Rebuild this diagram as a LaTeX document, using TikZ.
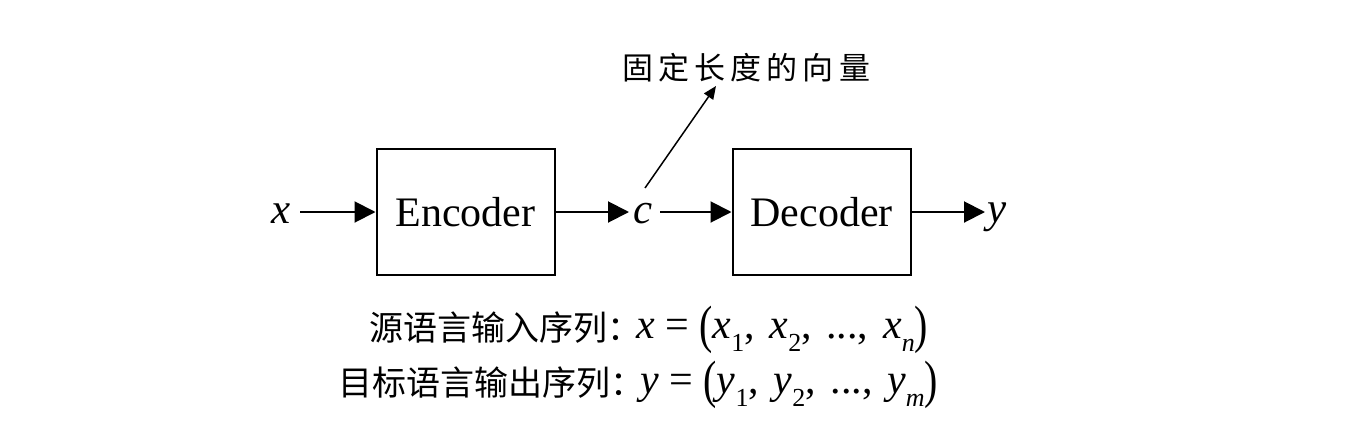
\documentclass[tikz,border=0pt]{standalone}
\usepackage{fontspec}
\usepackage{graphicx}
\setmainfont{Liberation Serif}
\newfontfamily\cjk{Noto Sans CJK SC}
\usetikzlibrary{arrows.meta}
\newcommand\mysub[1]{\raisebox{-0.3em}{\fontsize{26}{26}\selectfont #1}}
\newcommand\myit[1]{\textit{#1}}
\newcommand\tallp[1]{\raisebox{-0.1em}{\scalebox{0.95}[1.25]{#1}}}
\newcommand\myeq{\hspace{0.25em}=\hspace{0.25em}}
\newcommand\cm{,\hspace{0.35em}}
\begin{document}
\begin{tikzpicture}[x=1pt,y=-1pt,
  blk/.style={draw,line width=2pt,minimum width=178pt,minimum height=126pt,inner sep=0pt,font=\fontsize{42}{42}\selectfont},
  var/.style={inner sep=0pt,font=\fontsize{43}{43}\selectfont\itshape},
  flow/.style={line width=2pt,-{Triangle[length=21pt,width=21pt]}},
  note/.style={line width=1.5pt,-{Triangle[length=13pt,width=11pt]}},
  cjktxt/.style={inner sep=0pt,anchor=west,font=\fontsize{34}{34}\selectfont},
  mth/.style={inner sep=0pt,anchor=west,font=\fontsize{42}{42}\selectfont}]
\useasboundingbox (0,0) rectangle (1358,426);
\node[blk] (enc) at (465.5,212) {Encoder};
\node[blk] (dec) at (821.5,212) {Decoder};
\node[var] (x) at (281,214) {x};
\node[var] (c) at (643,214) {c};
\node[var] (y) at (997,217) {y};
\coordinate (xs) at (300,212);
\coordinate (ce) at (629,212);
\coordinate (cs) at (660,212);
\coordinate (ye) at (985,212);
\draw[flow] (xs) -- (enc.west);
\draw[flow] (enc.east) -- (ce);
\draw[flow] (cs) -- (dec.west);
\draw[flow] (dec.east) -- (ye);
\node[inner sep=0pt,font=\fontsize{31}{31}\selectfont\cjk] (lbl) at (746,68) {固\,定\,长\,度\,的\,向\,量};
\coordinate (ns) at (645,188);
\coordinate (ne) at (716,86);
\draw[note] (ns) -- (ne);
\node[cjktxt] (l1) at (369,328) {\cjk 源语言输入序列：};
\node[mth] (m1) at (636,330) {\myit{x}\myeq\tallp{(}\myit{x}\mysub{1}\cm\myit{x}\mysub{2}\cm...\cm\myit{x}\mysub{\myit{n}}\tallp{)}};
\node[cjktxt] (l2) at (338,383) {\cjk 目标语言输出序列：};
\node[mth] (m2) at (640,385) {\myit{y}\myeq\tallp{(}\myit{y}\mysub{1}\cm\myit{y}\mysub{2}\cm...\cm\myit{y}\mysub{\myit{m}}\tallp{)}};
\end{tikzpicture}
\end{document}
